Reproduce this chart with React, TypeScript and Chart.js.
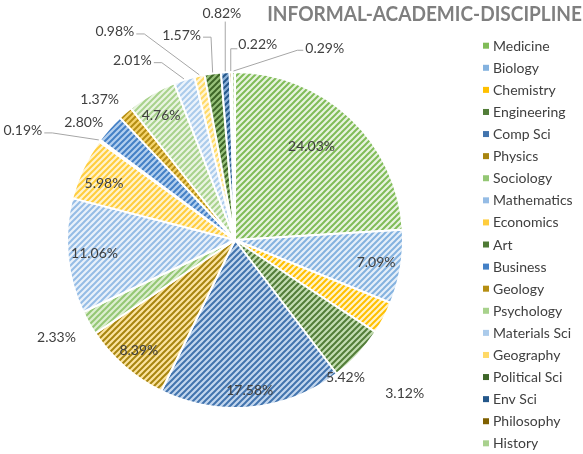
import React, { useEffect, useRef } from 'react';
import { Chart, registerables } from 'chart.js';

Chart.register(...registerables);

// ---------- data ----------
const categories = [
  'Medicine', 'Biology', 'Chemistry', 'Engineering', 'Comp Sci', 'Physics', 'Sociology',
  'Mathematics', 'Economics', 'Art', 'Business', 'Geology', 'Psychology', 'Materials Sci',
  'Geography', 'Political Sci', 'Env Sci', 'Philosophy', 'History',
];
const shares = [
  24.03, 7.09, 3.12, 5.42, 17.58, 8.39, 2.33, 11.06, 5.98, 0.19, 2.8, 1.37, 4.76, 2.01,
  0.98, 1.57, 0.82, 0.22, 0.29,
];
const valueLabels = shares.map((v) => v.toFixed(2) + '%');
const chartTitle = 'INFORMAL-ACADEMIC-DISCIPLINE';

// ---------- styles ----------
const stripeColors = [
  '#80BC58', '#84B2DF', '#FFC000', '#527D38', '#4274AE', '#A8850F', '#94C774',
  '#95BCE5', '#FFCD3D', '#4F7A35', '#4480C6', '#B58E12', '#A8D28C', '#ABCBEB',
  '#FFD966', '#3E6628', '#24578A', '#7F6000', '#A9D18E',
];
const baseColors = [
  '#E8F3E0', '#E5EFF9', '#FFF3CC', '#C3DDB2', '#C3D7EE', '#FBE3A0', '#DCEED0',
  '#E9F1FA', '#FFF3CE', '#B3D59C', '#B3CFEE', '#F5D46E', '#EAF4E2', '#ECF3FB',
  '#FFF5D6', '#98C27C', '#8DB2DA', '#DDB84E', '#E6F2DE',
];
// label placement: radial distance (x radius) and angular shift (deg) from slice middle
const labelDist = [0.72, 0.85, 1.36, 1.05, 0.9, 0.87, 1.21, 0.84, 0.85, 1.42, 1.14, 1.16, 0.86, 1.23, 1.43, 1.26, 1.35, 1.17, 1.26];
const labelShift = [-4, -0.4, 14.4, 8.2, 0, 0, 1, 0, -1.8, -9.1, -3.9, -3.2, -1, -12.2, -17.8, -7, 0, 8.1, 25.6];
const leaderStyle = ['', '', '', '', '', '', '', '', '', 'hl', '', '', '', 'hl', 'hl', 'hl', 'v', 'L', 'hr'];

const FONT = 'Lato, "Open Sans", sans-serif';

function makePattern(fg: string, bg: string): CanvasPattern | string {
  const s = 6;
  const c = document.createElement('canvas');
  c.width = s;
  c.height = s;
  const g = c.getContext('2d');
  if (!g) return fg;
  g.fillStyle = bg;
  g.fillRect(0, 0, s, s);
  g.strokeStyle = fg;
  g.lineWidth = 2;
  g.beginPath();
  g.moveTo(-1, s + 1);
  g.lineTo(s + 1, -1);
  g.moveTo(-1, 1);
  g.lineTo(1, -1);
  g.moveTo(s - 1, s + 1);
  g.lineTo(s + 1, s - 1);
  g.stroke();
  const p = g.createPattern(c, 'repeat');
  return p || fg;
}

const decorPlugin = {
  id: 'decor',
  afterDatasetsDraw(chart: any) {
    const ctx: CanvasRenderingContext2D = chart.ctx;
    const meta = chart.getDatasetMeta(0);
    ctx.save();
    ctx.font = `14px ${FONT}`;
    ctx.textAlign = 'center';
    ctx.textBaseline = 'middle';
    meta.data.forEach((arc: any, i: number) => {
      const { x, y, startAngle, endAngle, outerRadius } = arc.getProps(
        ['x', 'y', 'startAngle', 'endAngle', 'outerRadius'],
        true
      );
      const mid = (startAngle + endAngle) / 2;
      const a = mid + (labelShift[i] * Math.PI) / 180;
      const r = outerRadius * labelDist[i];
      const lx = x + Math.cos(a) * r;
      const ly = y + Math.sin(a) * r;
      const text = valueLabels[i];
      const w = ctx.measureText(text).width;
      const ex = x + Math.cos(mid) * (outerRadius + 1);
      const ey = y + Math.sin(mid) * (outerRadius + 1);
      const st = leaderStyle[i];
      if (st) {
        ctx.strokeStyle = '#A6A6A6';
        ctx.lineWidth = 1;
        ctx.beginPath();
        if (st === 'hl') {
          const p0x = lx + w / 2 + 2;
          const p0y = ly + 2;
          ctx.moveTo(p0x, p0y);
          ctx.lineTo(p0x + 8, p0y);
          ctx.lineTo(ex, ey);
        } else if (st === 'hr') {
          const p0x = lx - w / 2 - 2;
          const p0y = ly + 2;
          ctx.moveTo(p0x, p0y);
          ctx.lineTo(p0x - 6, p0y);
          ctx.lineTo(ex, ey);
        } else if (st === 'v') {
          ctx.moveTo(ex, ly + 8);
          ctx.lineTo(ex, ey);
        } else if (st === 'L') {
          const p0x = lx - w / 2 - 1;
          const p0y = ly + 4;
          ctx.moveTo(p0x, p0y);
          ctx.lineTo(ex, p0y);
          ctx.lineTo(ex, ey);
        }
        ctx.stroke();
      }
      ctx.fillStyle = '#404040';
      ctx.fillText(text, lx, ly);
    });

    // legend
    ctx.textAlign = 'left';
    categories.forEach((name, i) => {
      const yy = 45.7 + 22.09 * i;
      ctx.fillStyle = stripeColors[i];
      ctx.fillRect(483, yy - 3, 6, 6);
      ctx.fillStyle = '#404040';
      ctx.fillText(name, 493, yy + 0.5);
    });

    // title
    const base = 18;
    ctx.font = `bold ${base}px ${FONT}`;
    const tw = ctx.measureText(chartTitle).width;
    const size = (base * 315) / tw;
    ctx.font = `bold ${size.toFixed(2)}px ${FONT}`;
    ctx.textAlign = 'right';
    ctx.fillStyle = '#7F7F7F';
    ctx.translate(582, 14);
    ctx.scale(1, 1.12);
    ctx.fillText(chartTitle, 0, 0);
    ctx.restore();
  },
};

export default function App() {
  const ref = useRef<HTMLCanvasElement | null>(null);
  useEffect(() => {
    if (!ref.current) return;
    const patterns = stripeColors.map((c, i) => makePattern(c, baseColors[i]));
    const chart = new Chart(ref.current, {
      type: 'pie',
      data: {
        labels: categories,
        datasets: [
          {
            data: shares,
            backgroundColor: patterns as any,
            borderColor: '#FFFFFF',
            borderWidth: 2,
          },
        ],
      },
      options: {
        responsive: false,
        animation: false,
        events: [],
        layout: { padding: { left: 66, right: 179, top: 71, bottom: 45 } },
        plugins: {
          legend: { display: false },
          title: { display: false },
          tooltip: { enabled: false },
        },
      },
      plugins: [decorPlugin],
    });
    return () => chart.destroy();
  }, []);
  return (
    <div style={{ position: 'fixed', left: 0, top: 0, width: 583, height: 454, background: '#fff' }}>
      <canvas ref={ref} width={583} height={454} style={{ display: 'block' }} />
    </div>
  );
}
